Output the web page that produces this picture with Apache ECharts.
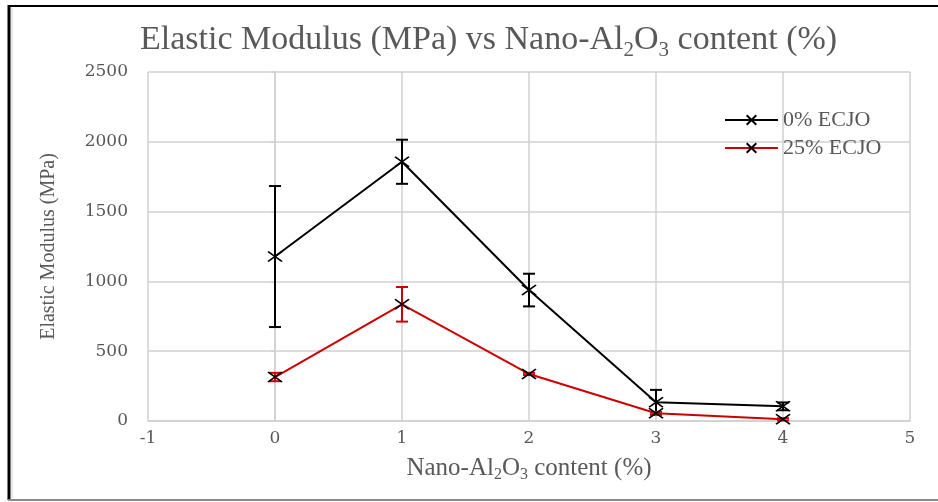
<!DOCTYPE html>
<html>
<head>
<meta charset="utf-8">
<script src="https://cdn.jsdelivr.net/npm/echarts@6/dist/echarts.min.js"></script>
<style>
  html, body { margin: 0; padding: 0; background: #fff; }
  #chart { width: 938px; height: 502px; }
</style>
</head>
<body>
<div id="chart"></div>
<script>
// 데이터
const contentPct = [0, 1, 2, 3, 4];
const ecjo0Mean = [1178, 1857, 938, 135, 105];
const ecjo0Err = [505, 158, 117, 88, 28];
const ecjo25Mean = [315, 836, 337, 55, 12];
const ecjo25Err = [30, 124, 8, 10, 8];
const seriesNames = ['0% ECJO', '25% ECJO'];
const xTicks = [-1, 0, 1, 2, 3, 4, 5];
const yTicks = [0, 500, 1000, 1500, 2000, 2500];

const black = '#000000';
const red = '#cc0000';
const textGray = '#595959';
const gridGray = '#d0d0d0';
const serif = "'Liberation Serif', 'Times New Roman', serif";
const tickFont = "'DejaVu Serif', serif";

const crossSymbol = 'path://M0,0L14,10M14,0L0,10';

const toPoints = (xs, ys) => xs.map((x, i) => [x, ys[i]]);
const toErrors = (xs, ys, es) => xs.map((x, i) => [x, ys[i] - es[i], ys[i] + es[i]]);

// 오차 막대
const renderErrorBar = (params, api) => {
  const x = api.value(0);
  const lo = api.coord([x, api.value(1)]);
  const hi = api.coord([x, api.value(2)]);
  const half = 6;
  const style = { stroke: api.visual('color'), lineWidth: 2 };
  return {
    type: 'group',
    children: [
      { type: 'line', shape: { x1: lo[0], y1: lo[1], x2: hi[0], y2: hi[1] }, style },
      { type: 'line', shape: { x1: lo[0] - half, y1: lo[1], x2: lo[0] + half, y2: lo[1] }, style },
      { type: 'line', shape: { x1: hi[0] - half, y1: hi[1], x2: hi[0] + half, y2: hi[1] }, style }
    ]
  };
};

const lineSeries = (name, data, color) => ({
  name,
  type: 'line',
  data,
  z: 3,
  symbol: crossSymbol,
  symbolSize: [14, 10],
  lineStyle: { color, width: 2 },
  itemStyle: { color: 'transparent', borderColor: black, borderWidth: 1.6 },
  emphasis: { disabled: true },
  animation: false
});

const errorSeries = (data, color) => ({
  type: 'custom',
  renderItem: renderErrorBar,
  data,
  z: 2,
  encode: { x: 0, y: [1, 2] },
  itemStyle: { color },
  silent: true,
  animation: false
});

const chart = echarts.init(document.getElementById('chart'), null, { renderer: 'canvas' });

chart.setOption({
  backgroundColor: '#ffffff',
  animation: false,
  title: {
    text: 'Elastic Modulus (MPa) vs Nano-Al{sub|2}O{sub|3} content (%)',
    left: 135,
    top: 15,
    textStyle: {
      fontFamily: serif,
      fontSize: 34,
      fontWeight: 'normal',
      color: textGray,
      rich: {
        sub: { fontFamily: serif, fontSize: 21, color: textGray, padding: [20, 0, 0, 0] }
      }
    }
  },
  legend: {
    data: seriesNames,
    orient: 'vertical',
    left: 719,
    top: 104,
    itemWidth: 53,
    itemHeight: 12,
    itemGap: 6,
    textStyle: { fontFamily: serif, fontSize: 22, color: textGray }
  },
  grid: { left: 148, right: 28, top: 72, bottom: 81, containLabel: false },
  xAxis: {
    type: 'value',
    min: xTicks[0],
    max: xTicks[xTicks.length - 1],
    interval: 1,
    name: 'Nano-Al{sub|2}O{sub|3} content (%)',
    nameLocation: 'middle',
    nameGap: 33,
    nameTextStyle: {
      fontFamily: serif,
      fontSize: 25,
      color: textGray,
      rich: {
        sub: { fontFamily: serif, fontSize: 16, color: textGray, padding: [13, 0, 0, 0] }
      }
    },
    axisLine: { lineStyle: { color: gridGray, width: 1.5 } },
    axisTick: { show: false },
    splitLine: { show: true, lineStyle: { color: gridGray, width: 1.5 } },
    axisLabel: { fontFamily: tickFont, fontSize: 17, color: textGray, margin: 9 }
  },
  yAxis: {
    type: 'value',
    min: yTicks[0],
    max: yTicks[yTicks.length - 1],
    interval: 500,
    name: 'Elastic Modulus (MPa)',
    nameLocation: 'middle',
    nameGap: 89,
    nameTextStyle: { fontFamily: serif, fontSize: 20, color: textGray },
    axisLine: { show: true, lineStyle: { color: gridGray, width: 1.5 } },
    axisTick: { show: true, length: 4, lineStyle: { color: gridGray, width: 1.5 } },
    splitLine: { show: true, lineStyle: { color: gridGray, width: 1.5 } },
    axisLabel: {
      fontFamily: tickFont,
      fontSize: 17,
      color: textGray,
      margin: 20,
      formatter: v => String(v)
    }
  },
  graphic: [
    { type: 'line', shape: { x1: 8, y1: 6, x2: 938, y2: 6 }, style: { stroke: '#000', lineWidth: 2 } },
    { type: 'line', shape: { x1: 9, y1: 5, x2: 9, y2: 500 }, style: { stroke: '#000', lineWidth: 3 } },
    { type: 'line', shape: { x1: 12, y1: 8, x2: 12, y2: 498 }, style: { stroke: '#cfcfcf', lineWidth: 1 } },
    { type: 'line', shape: { x1: 8, y1: 500, x2: 938, y2: 500 }, style: { stroke: '#8a8a8a', lineWidth: 2 } }
  ],
  series: [
    errorSeries(toErrors(contentPct, ecjo0Mean, ecjo0Err), black),
    errorSeries(toErrors(contentPct, ecjo25Mean, ecjo25Err), red),
    lineSeries(seriesNames[0], toPoints(contentPct, ecjo0Mean), black),
    lineSeries(seriesNames[1], toPoints(contentPct, ecjo25Mean), red)
  ]
});
</script>
</body>
</html>
